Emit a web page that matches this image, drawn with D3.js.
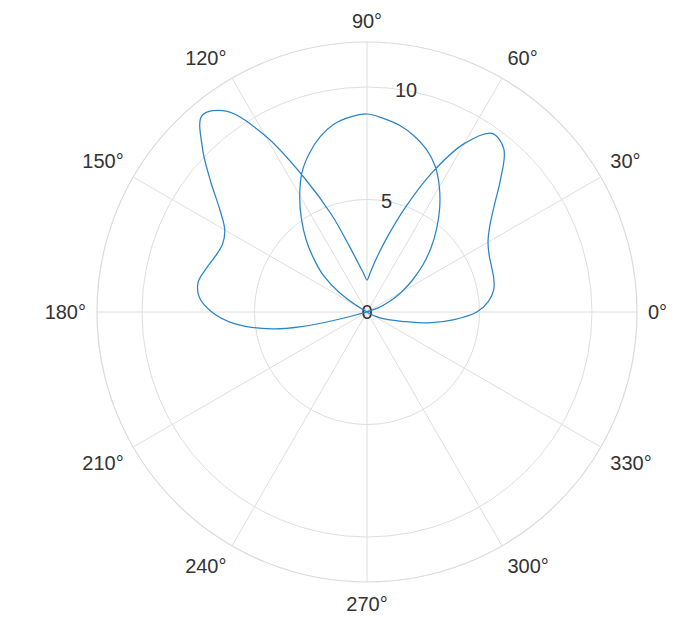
<!DOCTYPE html>
<html>
<head>
<meta charset="utf-8">
<script src="https://cdn.jsdelivr.net/npm/d3@7"></script>
<style>
  body { margin: 0; background: #ffffff; }
  svg { display: block; }
</style>
</head>
<body>
<div id="chart"></div>
<script>
// Curve: angle (deg) and radius, negative radius = drawn on the opposite side
const thetaDeg = [0, 5, 10, 15, 20, 25, 30, 35, 40, 45, 50, 55, 60, 65, 70, 75, 80, 85, 90,
    95, 100, 105, 110, 115, 120, 125, 130, 135, 140, 145, 150, 155, 160, 165, 170, 175, 180,
    185, 190, 192.5, 195, 200, 205, 210, 215, 220, 225, 230, 235, 240, 245, 250, 255, 260,
    265, 270, 275, 280, 285, 290, 295, 300, 305, 310, 315, 320, 325, 330, 335, 340, 345, 350, 355];
const radius = [4.88, 5.42, 5.72, 5.83, 5.89, 5.99, 6.21, 6.66, 7.39, 8.41, 9.46, 9.69, 8.64,
    6.82, 4.90, 3.41, 2.43, 1.79, 1.42, 1.72, 2.19, 3.03, 4.60, 6.56, 9.04, 10.90, 11.40, 10.35,
    9.09, 8.00, 7.30, 7.09, 7.19, 7.41, 7.62, 7.48, 6.90, 5.92, 4.32, 3.07, 0.6, -0.5, -1.1,
    -1.76, -2.46, -3.23, -4.02, -4.81, -5.63, -6.43, -7.16, -7.70, -8.10, -8.42, -8.63, -8.80,
    -8.69, -8.47, -8.06, -7.50, -6.84, -5.98, -5.09, -4.22, -3.34, -2.53, -1.47, 0.15, 0.6, 1.0,
    1.6, 2.79, 3.89];

const angleTicks = [0, 30, 60, 90, 120, 150, 180, 210, 240, 270, 300, 330];
const radialTicks = [0, 5, 10];
const rMax = 12;

const width = 698;
const height = 633;
const cx = 367;
const cy = 312;
const outer = 270;

const svg = d3.select("#chart")
    .append("svg")
    .attr("width", width)
    .attr("height", height);

const g = svg.append("g")
    .attr("transform", `translate(${cx}, ${cy})`);

// Scales: matplotlib style angles (0 at east, counter-clockwise) -> d3 radial angles
const rScale = d3.scaleLinear().domain([0, rMax]).range([0, outer]);
const aScale = d3.scaleLinear().domain([0, 360]).range([Math.PI / 2, Math.PI / 2 - 2 * Math.PI]);

const gridColor = "#dedede";

// Grid circles
g.selectAll(".ring")
    .data(radialTicks.filter(d => d > 0))
    .enter()
    .append("circle")
    .attr("class", "ring")
    .attr("r", d => rScale(d))
    .attr("fill", "none")
    .attr("stroke", gridColor)
    .attr("stroke-width", 1);

// Spokes
g.selectAll(".spoke")
    .data(angleTicks)
    .enter()
    .append("line")
    .attr("class", "spoke")
    .attr("x1", 0)
    .attr("y1", 0)
    .attr("x2", d => rScale(rMax) * Math.sin(aScale(d)))
    .attr("y2", d => -rScale(rMax) * Math.cos(aScale(d)))
    .attr("stroke", gridColor)
    .attr("stroke-width", 1);

// Outer spine
g.append("circle")
    .attr("r", rScale(rMax))
    .attr("fill", "none")
    .attr("stroke", "#dadada")
    .attr("stroke-width", 1.2);

// Angle labels
const labelR = 281;
const halfH = 10.5;
angleTicks.forEach(d => {
    const t = d * Math.PI / 180;
    const c = Math.cos(t), s = Math.sin(t);
    const anchor = c > 0.01 ? "start" : (c < -0.01 ? "end" : "middle");
    const yOff = s > 0.01 ? -halfH : (s < -0.01 ? halfH : 0);
    g.append("text")
        .attr("x", labelR * c)
        .attr("y", -labelR * s + yOff)
        .attr("text-anchor", anchor)
        .attr("dominant-baseline", "central")
        .style("font-family", "'Liberation Sans', Arial, sans-serif")
        .style("font-size", "20px")
        .style("fill", "#333333")
        .text(d + "\u00b0");
});

// Radial labels along 80 degrees
const rLabelAngle = aScale(80);
g.selectAll(".rlabel")
    .data(radialTicks)
    .enter()
    .append("text")
    .attr("class", "rlabel")
    .attr("x", d => rScale(d) * Math.sin(rLabelAngle))
    .attr("y", d => -rScale(d) * Math.cos(rLabelAngle))
    .attr("text-anchor", "middle")
    .attr("dominant-baseline", "central")
    .style("font-family", "'Liberation Sans', Arial, sans-serif")
    .style("font-size", "20px")
    .style("fill", "#333333")
    .text(d => d);

// Curve
const points = thetaDeg.map((t, i) => ({ theta: t, r: radius[i] }));

const line = d3.lineRadial()
    .angle(d => aScale(d.theta))
    .radius(d => rScale(d.r))
    .curve(d3.curveCatmullRomClosed.alpha(0.5));

g.append("path")
    .datum(points)
    .attr("d", line)
    .attr("fill", "none")
    .attr("stroke", "#2a84c8")
    .attr("stroke-width", 1.25);
</script>
</body>
</html>
